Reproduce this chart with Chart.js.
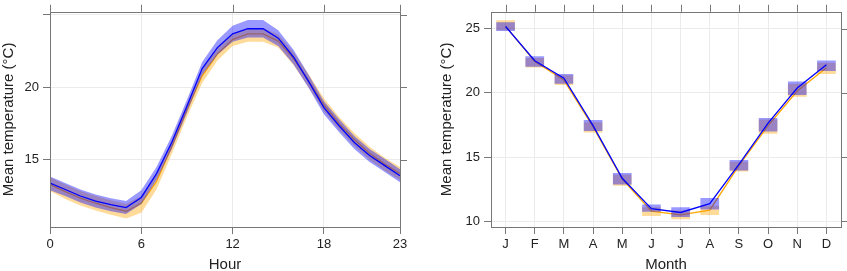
<!DOCTYPE html>
<html>
<head>
<meta charset="utf-8">
<script src="https://cdn.jsdelivr.net/npm/chart.js@4/dist/chart.umd.min.js"></script>
<style>
  html, body { margin: 0; padding: 0; background: #fff; }
  #wrap { position: relative; width: 847px; height: 271px; }
  #hourBox { position: absolute; left: 0; top: 0; width: 420px; height: 271px; }
  #monthBox { position: absolute; left: 420px; top: 0; width: 427px; height: 271px; }
</style>
</head>
<body>
<div id="wrap">
  <div id="hourBox"><canvas id="hourChart" width="420" height="271"></canvas></div>
  <div id="monthBox"><canvas id="monthChart" width="427" height="271"></canvas></div>
</div>
<script>
// horas y meses
const hours = [0, 1, 2, 3, 4, 5, 6, 7, 8, 9, 10, 11, 12, 13, 14, 15, 16, 17, 18, 19, 20, 21, 22, 23];
const hourTicks = [0, 6, 12, 18, 23];
const hourYTicks = [15, 20, 25];

const hourBlueMean = [13.4, 12.95, 12.5, 12.15, 11.9, 11.7, 12.4, 14.05, 16.2, 18.7, 21.3, 22.75, 23.7, 24.05, 24.05, 23.4, 22.1, 20.4, 18.6, 17.35, 16.2, 15.3, 14.6, 13.9];
const hourBlueLow = [12.9, 12.5, 12.05, 11.7, 11.45, 11.25, 11.95, 13.6, 15.75, 18.25, 20.85, 22.25, 23.15, 23.45, 23.45, 22.85, 21.6, 19.95, 18.15, 16.9, 15.75, 14.85, 14.15, 13.45];
const hourBlueHigh = [13.85, 13.4, 12.95, 12.6, 12.35, 12.15, 12.9, 14.5, 16.65, 19.15, 21.75, 23.25, 24.25, 24.65, 24.65, 23.95, 22.6, 20.85, 19.05, 17.8, 16.65, 15.75, 15.05, 14.35];

const hourOrangeMean = [13.3, 12.8, 12.35, 12.0, 11.7, 11.45, 12.0, 13.5, 15.9, 18.45, 20.8, 22.3, 23.3, 23.7, 23.7, 23.2, 22.0, 20.45, 18.8, 17.5, 16.4, 15.45, 14.7, 14.05];
const hourOrangeLow = [12.85, 12.3, 11.85, 11.5, 11.2, 10.95, 11.35, 12.95, 15.4, 17.95, 20.3, 21.85, 22.85, 23.15, 23.15, 22.75, 21.55, 20.0, 18.35, 17.05, 15.95, 15.0, 14.25, 13.6];
const hourOrangeHigh = [13.8, 13.3, 12.85, 12.5, 12.2, 11.95, 12.5, 14.0, 16.35, 18.9, 21.25, 22.75, 23.7, 24.1, 24.1, 23.65, 22.45, 20.9, 19.25, 17.95, 16.85, 15.9, 15.15, 14.5];

const months = ['J', 'F', 'M', 'A', 'M', 'J', 'J', 'A', 'S', 'O', 'N', 'D'];
const monthYTicks = [10, 15, 20, 25];

const monthBlueMean = [25.17, 22.5, 21.14, 17.45, 13.36, 11.0, 10.7, 11.39, 14.45, 17.65, 20.38, 22.2];
const monthBlueLow = [24.85, 22.07, 20.73, 17.07, 12.9, 10.78, 10.38, 10.96, 13.99, 17.02, 19.87, 21.74];
const monthBlueHigh = [25.48, 22.83, 21.44, 17.86, 13.74, 11.29, 11.08, 11.8, 14.75, 18.03, 20.86, 22.5];

const monthOrangeMean = [25.2, 22.45, 21.0, 17.35, 13.3, 10.8, 10.52, 10.88, 14.35, 17.45, 20.15, 21.95];
const monthOrangeLow = [24.9, 22.0, 20.65, 16.95, 12.8, 10.45, 10.2, 10.53, 13.92, 16.84, 19.72, 21.49];
const monthOrangeHigh = [25.63, 22.7, 21.35, 17.7, 13.6, 11.08, 10.83, 11.2, 14.62, 17.9, 20.68, 22.33];

const BLUE = '#0000ff';
const ORANGE = '#ffa500';
const BLUE_FILL = 'rgba(0, 0, 255, 0.4)';
const ORANGE_FILL = 'rgba(255, 165, 0, 0.4)';
const FRAME = '#777777';
const GRID = '#ebebeb';
const FONT = "'Liberation Sans', Arial, sans-serif";

Chart.defaults.font.family = FONT;
Chart.defaults.color = '#222';

// marco estilo lattice con ticks arriba y a la derecha
const frame = {
    id: 'frame',
    afterDraw(chart) {
        const { ctx, chartArea: a, scales: { x, y } } = chart;
        ctx.save();
        ctx.strokeStyle = FRAME;
        ctx.lineWidth = 1;
        ctx.strokeRect(Math.round(a.left) + 0.5, Math.round(a.top) + 0.5,
            Math.round(a.right - a.left), Math.round(a.bottom - a.top));
        ctx.beginPath();
        x.ticks.forEach((t, i) => {
            const px = Math.round(x.getPixelForTick(i)) + 0.5;
            ctx.moveTo(px, a.top);
            ctx.lineTo(px, a.top - 7);
        });
        y.ticks.forEach((t, i) => {
            const py = Math.round(y.getPixelForTick(i)) + 0.5;
            ctx.moveTo(a.right, py);
            ctx.lineTo(a.right + 7, py);
        });
        ctx.stroke();
        ctx.restore();
    }
};

const pts = (vals) => vals.map((v, i) => ({ x: hours[i], y: v }));

const edge = (vals, order) => ({
    data: pts(vals),
    borderColor: 'transparent',
    borderWidth: 0,
    pointRadius: 0,
    fill: false,
    order: order
});

const band = (vals, color, order) => ({
    data: pts(vals),
    borderColor: 'transparent',
    borderWidth: 0,
    pointRadius: 0,
    backgroundColor: color,
    fill: '-1',
    order: order
});

const meanLine = (data, color, order) => ({
    data: data,
    borderColor: color,
    borderWidth: 1.3,
    pointRadius: 0,
    tension: 0,
    fill: false,
    order: order
});

const axisTitle = (text) => ({
    display: true,
    text: text,
    font: { size: 15, lineHeight: 1 },
    color: '#222',
    padding: { top: 0, bottom: -1.5 }
});

new Chart(document.getElementById('hourChart'), {
    type: 'line',
    data: {
        datasets: [
            edge(hourOrangeLow, 6),
            band(hourOrangeHigh, ORANGE_FILL, 5),
            meanLine(pts(hourOrangeMean), ORANGE, 4),
            edge(hourBlueLow, 3),
            band(hourBlueHigh, BLUE_FILL, 2),
            meanLine(pts(hourBlueMean), BLUE, 1)
        ]
    },
    options: {
        responsive: false,
        animation: false,
        layout: { padding: { top: 7, right: 20, left: 0, bottom: 0 } },
        plugins: { legend: { display: false }, tooltip: { enabled: false } },
        scales: {
            x: {
                type: 'linear',
                min: 0,
                max: 23,
                afterBuildTicks: (s) => { s.ticks = hourTicks.map(v => ({ value: v })); },
                afterFit: (s) => { s.height = 44; },
                ticks: { font: { size: 13 }, padding: 3, color: '#222' },
                grid: { color: GRID, tickColor: FRAME, tickLength: 7 },
                border: { display: false },
                title: axisTitle('Hour')
            },
            y: {
                min: 10.36,
                max: 25.22,
                afterBuildTicks: (s) => { s.ticks = hourYTicks.map(v => ({ value: v })); },
                afterFit: (s) => { s.width = 50; },
                ticks: {
                    font: { size: 13 }, padding: 4, color: '#222',
                    callback: (v) => (v === 25 ? '' : v)
                },
                grid: { color: GRID, tickColor: FRAME, tickLength: 7 },
                border: { display: false },
                title: Object.assign(axisTitle('Mean temperature (°C)'), { padding: { top: 1, bottom: 0 } })
            }
        }
    },
    plugins: [frame]
});

const rect = (low, high, color, order) => ({
    type: 'bar',
    data: low.map((v, i) => [v, high[i]]),
    backgroundColor: color,
    borderWidth: 0,
    barThickness: 18,
    grouped: false,
    order: order
});

new Chart(document.getElementById('monthChart'), {
    type: 'bar',
    data: {
        labels: months,
        datasets: [
            rect(monthOrangeLow, monthOrangeHigh, ORANGE_FILL, 4),
            Object.assign(meanLine(monthOrangeMean, ORANGE, 3), { type: 'line' }),
            rect(monthBlueLow, monthBlueHigh, BLUE_FILL, 2),
            Object.assign(meanLine(monthBlueMean, BLUE, 1), { type: 'line' })
        ]
    },
    options: {
        responsive: false,
        animation: false,
        layout: { padding: { top: 6, right: 6, left: 18, bottom: 0 } },
        plugins: { legend: { display: false }, tooltip: { enabled: false } },
        scales: {
            x: {
                offset: true,
                afterFit: (s) => { s.height = 44; },
                ticks: { font: { size: 13 }, padding: 3, color: '#222', autoSkip: false, maxRotation: 0 },
                grid: { offset: false, color: GRID, tickColor: FRAME, tickLength: 7 },
                border: { display: false },
                title: axisTitle('Month')
            },
            y: {
                min: 9.57,
                max: 26.31,
                afterBuildTicks: (s) => { s.ticks = monthYTicks.map(v => ({ value: v })); },
                afterFit: (s) => { s.width = 53; },
                ticks: { font: { size: 13 }, padding: 4, color: '#222' },
                grid: { color: GRID, tickColor: FRAME, tickLength: 7 },
                border: { display: false },
                title: Object.assign(axisTitle('Mean temperature (°C)'), { padding: { top: 1, bottom: 0 } })
            }
        }
    },
    plugins: [frame]
});
</script>
</body>
</html>
